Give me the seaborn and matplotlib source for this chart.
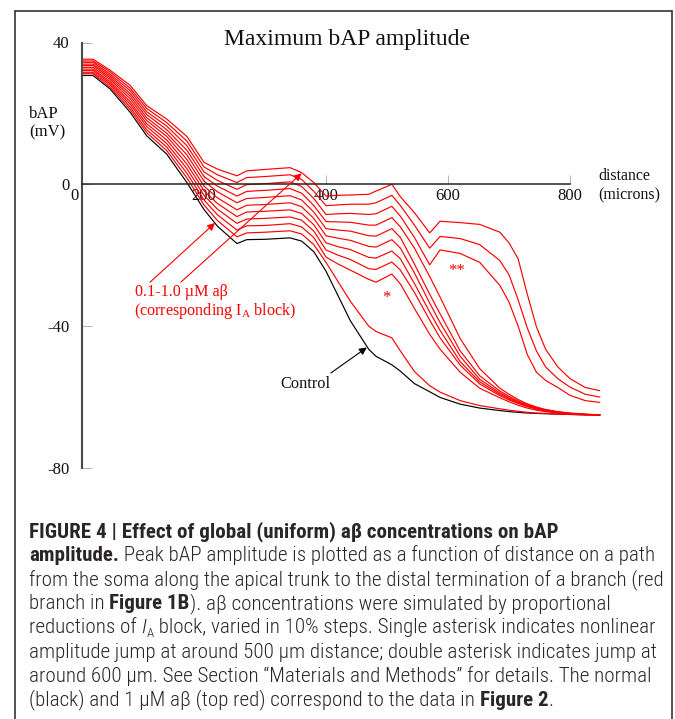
import matplotlib
matplotlib.use("Agg")
import matplotlib.pyplot as plt
from matplotlib import font_manager
from matplotlib.lines import Line2D
from matplotlib.transforms import ScaledTranslation
import pandas as pd
import seaborn as sns

# ---- data: peak bAP amplitude (mV) along the path from the soma (microns) ----
distance = [0, 18, 46, 79, 106, 139, 172, 200, 222, 254, 270, 300, 341, 360, 380,
            400, 420, 440, 470, 482, 508, 522, 545, 570, 587, 620, 652, 685, 700,
            715, 730, 745, 760, 780, 800, 825, 849]

control = [30.7, 30.7, 26.9, 20.3, 13.7, 8.5, 0.5, -7.1, -11.8, -16.7, -15.6, -15.5, -15.1, -16.0, -19.0,
           -24.5, -31.5, -38.5, -46.5, -48.5, -50.9, -52.7, -56.2, -58.5, -60.1, -62.0, -63.1, -63.8, -64.1,
           -64.3, -64.5, -64.6, -64.7, -64.8, -64.9, -65.0, -65.0]
abeta_01 = [31.2, 31.2, 27.4, 21.1, 14.6, 9.5, 1.8, -5.8, -10.2, -14.8, -13.7, -13.5, -13.1, -14.0, -17.0,
            -22.0, -27.5, -33.0, -40.0, -41.5, -43.3, -47.0, -52.8, -56.8, -58.6, -61.0, -62.4, -63.3, -63.7,
            -64.0, -64.3, -64.5, -64.6, -64.8, -64.9, -65.0, -65.0]
abeta_02 = [31.6, 31.6, 28.0, 21.8, 15.4, 10.5, 3.1, -4.4, -8.6, -12.9, -11.7, -11.6, -11.1, -12.0, -15.0,
            -20.5, -22.5, -24.2, -26.8, -27.6, -25.3, -28.1, -35.0, -42.3, -46.5, -53.0, -57.5, -60.2, -61.3,
            -62.3, -63.1, -63.7, -64.1, -64.5, -64.8, -65.0, -65.0]
abeta_03 = [32.1, 32.1, 28.5, 22.6, 16.3, 11.5, 4.4, -3.1, -7.0, -11.0, -9.8, -9.6, -9.2, -10.1, -13.2,
            -18.5, -20.0, -21.2, -23.8, -24.0, -21.9, -24.2, -30.5, -38.3, -43.3, -51.0, -56.3, -59.6, -60.8,
            -61.8, -62.7, -63.4, -63.9, -64.4, -64.7, -64.9, -65.0]
abeta_04 = [32.5, 32.5, 29.0, 23.3, 17.1, 12.5, 5.7, -1.8, -5.4, -9.1, -7.8, -7.6, -7.2, -8.2, -11.4,
            -16.5, -17.6, -18.4, -20.6, -20.8, -18.8, -21.0, -28.0, -36.0, -41.2, -50.0, -55.7, -59.2, -60.5,
            -61.6, -62.5, -63.2, -63.8, -64.3, -64.7, -64.9, -65.0]
abeta_05 = [33.0, 33.0, 29.6, 24.1, 18.0, 13.5, 7.0, -0.5, -3.8, -7.2, -5.9, -5.7, -5.2, -6.3, -9.6,
            -14.5, -15.2, -15.8, -17.5, -17.7, -15.6, -18.0, -25.0, -33.5, -39.0, -48.5, -55.0, -58.8, -60.2,
            -61.4, -62.4, -63.1, -63.7, -64.2, -64.6, -64.9, -65.0]
abeta_06 = [33.5, 33.5, 30.1, 24.9, 18.8, 14.4, 8.3, 0.9, -2.1, -5.2, -4.0, -3.7, -3.2, -4.4, -7.8,
            -12.5, -12.9, -13.2, -14.5, -14.6, -12.5, -15.0, -22.5, -31.0, -36.5, -47.0, -54.0, -58.3, -59.8,
            -61.1, -62.2, -63.0, -63.6, -64.2, -64.6, -64.9, -65.0]
abeta_07 = [33.9, 33.9, 30.6, 25.6, 19.7, 15.4, 9.6, 2.2, -0.5, -3.3, -2.0, -1.7, -1.2, -2.5, -6.0,
            -10.5, -10.6, -10.7, -11.5, -11.5, -9.4, -12.0, -18.0, -26.0, -31.8, -43.5, -52.0, -57.5, -59.2,
            -60.7, -61.9, -62.8, -63.5, -64.1, -64.5, -64.8, -65.0]
abeta_08 = [34.4, 34.4, 31.1, 26.4, 20.5, 16.4, 10.9, 3.5, 1.1, -1.4, -0.1, 0.2, 0.7, -0.6, -4.0,
            -8.5, -8.3, -8.2, -8.5, -8.3, -6.2, -9.0, -15.0, -22.7, -18.5, -19.5, -22.0, -28.5, -33.2,
            -40.0, -48.0, -53.0, -55.3, -57.3, -59.5, -61.0, -61.5]
abeta_09 = [34.8, 34.8, 31.7, 27.1, 21.4, 17.4, 12.2, 4.9, 2.7, 0.5, 1.9, 2.2, 2.7, 1.4, -2.0,
            -6.0, -5.8, -5.6, -5.6, -5.2, -3.1, -6.0, -11.5, -18.0, -14.7, -15.3, -17.0, -21.5, -25.5,
            -32.6, -40.5, -47.0, -51.5, -54.8, -57.2, -59.2, -60.0]
abeta_10 = [35.3, 35.3, 32.2, 27.9, 22.2, 18.4, 13.5, 6.2, 4.3, 2.4, 3.8, 4.2, 4.7, 3.3, 0.5,
            -3.3, -3.1, -3.0, -2.8, -1.9, 0.0, -3.5, -8.0, -13.7, -10.4, -10.8, -11.3, -13.5, -16.5,
            -21.0, -31.0, -40.2, -46.5, -51.5, -54.8, -57.3, -58.2]

conditions = ["Control", "0.1", "0.2", "0.3", "0.4", "0.5", "0.6", "0.7", "0.8", "0.9", "1.0"]
series = [control, abeta_01, abeta_02, abeta_03, abeta_04, abeta_05,
          abeta_06, abeta_07, abeta_08, abeta_09, abeta_10]

x_ticks = [0, 200, 400, 600, 800]
x_tick_labels = ["0", "200", "400", "600", "800"]
y_ticks = [40, 0, -40, -80]
y_tick_labels = ["40", "0", "-40", "-80"]

# ---- style ----
sns.set_theme(style="white")
plt.rcParams["font.family"] = ["Liberation Serif", "DejaVu Serif"]
plt.rcParams["mathtext.fontset"] = "custom"
plt.rcParams["mathtext.rm"] = "Liberation Serif"

W, H = 675, 719
fig = plt.figure(figsize=(W / 100, H / 100), dpi=100)
fig.patch.set_facecolor("white")


def fx(px):
    return px / W


def fy(py):
    return 1 - py / H


X_SCALE = 488 / 800  # pixels per micron
ax = fig.add_axes([fx(82), fy(468), 880 * X_SCALE / W, (468 - 42.5) / H])
ax.set_facecolor("white")

frames = [pd.DataFrame({"distance": distance, "amplitude": vals, "condition": name})
          for name, vals in zip(conditions, series)]
df = pd.concat(frames, ignore_index=True)
palette = {name: ("black" if name == "Control" else "#ff0000") for name in conditions}

sns.lineplot(data=df, x="distance", y="amplitude", hue="condition", hue_order=conditions,
             palette=palette, estimator=None, sort=False, legend=False, lw=0.85, ax=ax)

ax.set_xlim(0, 880)
ax.set_ylim(-80, 40)
ax.set_xlabel("")
ax.set_ylabel("")
for side in ("top", "right"):
    ax.spines[side].set_visible(False)
ax.spines["left"].set_bounds(-80, 40)
ax.spines["left"].set_color("#4a4a4a")
ax.spines["left"].set_linewidth(1.5)
ax.spines["bottom"].set_position(("data", 0))
ax.spines["bottom"].set_bounds(0, 800)
ax.spines["bottom"].set_color("#222222")
ax.spines["bottom"].set_linewidth(1.1)

ax.set_xticks(x_ticks, x_tick_labels)
ax.set_yticks(y_ticks, y_tick_labels)
ax.tick_params(axis="x", direction="in", length=6.5, width=0.8, color="#b8b8b8",
               pad=3, labelsize=12, labelcolor="#111111", bottom=True)
ax.tick_params(axis="y", direction="in", length=7.5, width=0.8, color="#b8b8b8",
               pad=9, labelsize=12, labelcolor="#111111", left=True)
zero_label = ax.xaxis.get_major_ticks()[0].label1
zero_label.set_horizontalalignment("right")
zero_label.set_transform(zero_label.get_transform() + ScaledTranslation(-3 / 100, 0, fig.dpi_scale_trans))

# ---- annotations ----
label_kw = dict(color="#ff0000", fontsize=11.6, ha="left", va="center")
ax.text(87.5, -30.4, "0.1-1.0 \u00b5M a\u03b2", **label_kw)
ax.text(84.5, -35.6, r"(corresponding $\mathrm{I}_\mathrm{A}$ block)", **label_kw)
ax.text(499, -32.1, "*", color="#ff0000", fontsize=12, ha="center", va="center")
ax.text(614, -24.4, "**", color="#ff0000", fontsize=12, ha="center", va="center")
ax.text(367, -56.3, "Control", color="#111111", fontsize=11.8, ha="center", va="center")

red_arrow = dict(arrowstyle="-|>", color="#ff0000", lw=0.8, mutation_scale=11,
                 shrinkA=0, shrinkB=0)
ax.annotate("", xy=(218, -10.9), xytext=(111.5, -27.6), arrowprops=red_arrow)
ax.annotate("", xy=(360, 3.1), xytext=(162, -27.6), arrowprops=red_arrow)
ax.annotate("", xy=(467, -46.0), xytext=(408, -53.2),
            arrowprops=dict(arrowstyle="-|>", color="black", lw=0.8, mutation_scale=11,
                            shrinkA=0, shrinkB=0))

fig.text(fx(347), fy(45), "Maximum bAP amplitude", fontsize=17, ha="center",
         va="baseline", color="#111111")
fig.text(fx(29), fy(114), "bAP", fontsize=12, ha="left", va="center", color="#111111")
fig.text(fx(29), fy(132), "(mV)", fontsize=12, ha="left", va="center", color="#111111")
fig.text(fx(598), fy(176), "distance", fontsize=11.4, ha="left", va="center", color="#111111")
fig.text(fx(598), fy(195), "(microns)", fontsize=11.4, ha="left", va="center", color="#111111")

# ---- outer frame ----
frame_kw = dict(transform=fig.transFigure, color="#333333", lw=1.2)
fig.add_artist(Line2D([fx(15), fx(15)], [0, fy(11)], **frame_kw))
fig.add_artist(Line2D([fx(15), fx(672)], [fy(11), fy(11)], **frame_kw))
fig.add_artist(Line2D([fx(672), fx(672)], [fy(11), 0], **frame_kw))

# ---- caption ----
def pick_font(candidates):
    names = {f.name for f in font_manager.fontManager.ttflist}
    for c in candidates:
        if c in names:
            return c
    return "DejaVu Sans"


cap_font = pick_font(["Liberation Sans Narrow", "Roboto Condensed", "Liberation Sans"])
B, R, I, S = "bold", "normal", "italic", "sub"
caption = [
    [("FIGURE 4 | Effect of global (uniform) a\u03b2 concentrations on bAP", B)],
    [("amplitude.", B), (" Peak bAP amplitude is plotted as a function of distance on a path", R)],
    [("from the soma along the apical trunk to the distal termination of a branch (red", R)],
    [("branch in ", R), ("Figure 1B", B), ("). a\u03b2 concentrations were simulated by proportional", R)],
    [("reductions of ", R), ("I", I), ("A", S),
     (" block, varied in 10% steps. Single asterisk indicates nonlinear", R)],
    [("amplitude jump at around 500 \u00b5m distance; double asterisk indicates jump at", R)],
    [("around 600 \u00b5m. See Section \u201cMaterials and Methods\u201d for details. The normal", R)],
    [("(black) and 1 \u00b5M a\u03b2 (top red) correspond to the data in ", R), ("Figure 2", B), (".", R)],
]
renderer = fig.canvas.get_renderer()


def seg_props(kind, size):
    if kind == B:
        return dict(fontweight="bold", fontstyle="normal", fontsize=size)
    if kind == I:
        return dict(fontweight="light", fontstyle="italic", fontsize=size)
    if kind == S:
        return dict(fontweight="light", fontstyle="normal", fontsize=size * 0.62)
    return dict(fontweight="light", fontstyle="normal", fontsize=size)


def seg_width(txt, kind, size):
    t = fig.text(0, 0, "|" + txt + "|", family=cap_font, **seg_props(kind, size))
    w1 = t.get_window_extent(renderer).width
    t.set_text("||")
    w2 = t.get_window_extent(renderer).width
    t.remove()
    return w1 - w2


# size the caption so its widest full line spans the text column
base = 15.0
widest = max(sum(seg_width(t, k, base) for t, k in caption[n]) for n in (1, 2, 4, 5, 6))
cap_size = base * 634.0 / widest

for i, line in enumerate(caption):
    x = 29.0
    baseline = 537 + i * 24.1
    for txt, kind in line:
        dy = 4 if kind == S else 0
        fig.text(fx(x), fy(baseline + dy), txt, family=cap_font, color="#2a2627",
                 ha="left", va="baseline", **seg_props(kind, cap_size))
        x += seg_width(txt, kind, cap_size)

fig.savefig("out.png", dpi=100, facecolor="white")
